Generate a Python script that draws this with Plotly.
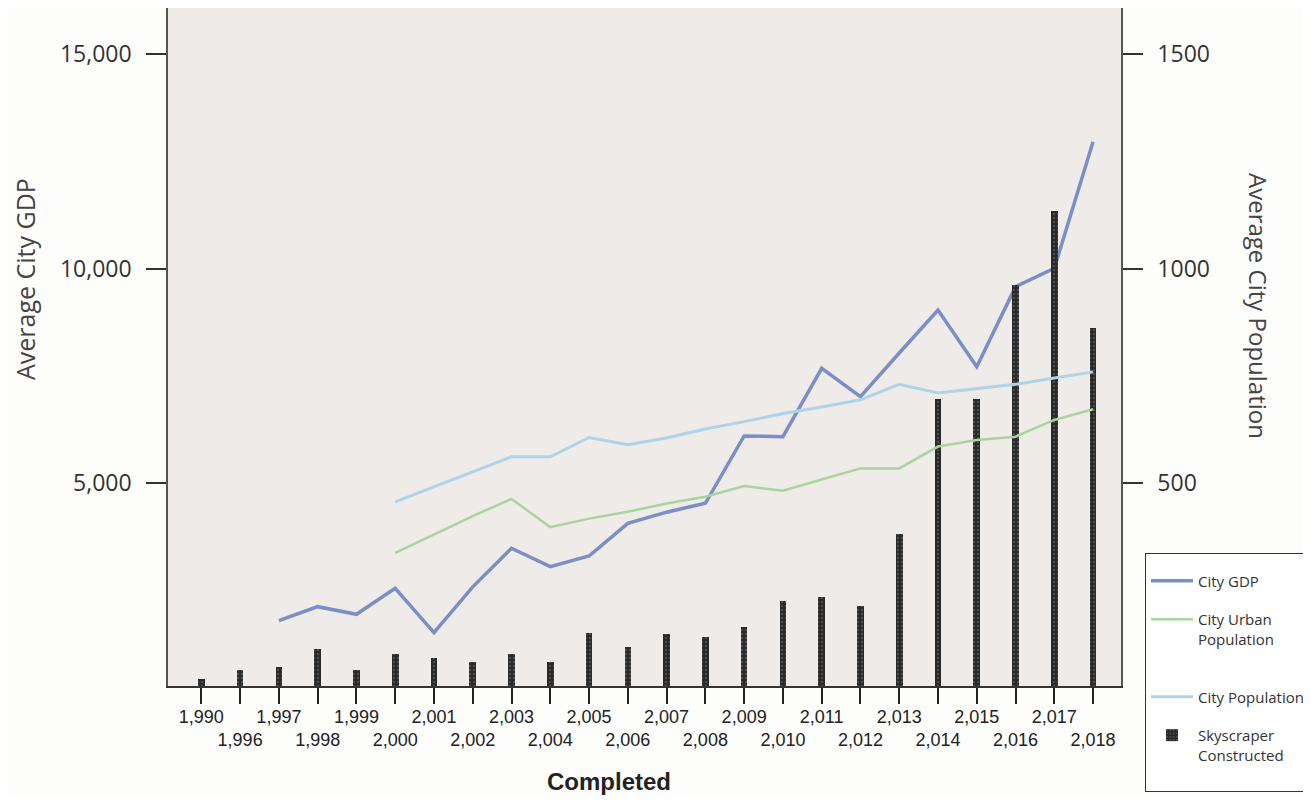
import plotly.graph_objects as go

# ---------------- data ----------------
years = ["1990", "1996", "1997", "1998", "1999", "2000", "2001", "2002", "2003", "2004",
         "2005", "2006", "2007", "2008", "2009", "2010", "2011", "2012", "2013", "2014",
         "2015", "2016", "2017", "2018"]

skyscrapers = [43, 64, 72, 112, 64, 101, 91, 82, 101, 82,
               150, 118, 148, 140, 165, 226, 235, 214, 380, 696,
               696, 962, 1134, 861]

city_gdp = [None, None, 1790, 2117, 1939, 2545, 1511, 2580, 3478, 3049,
            3298, 4060, 4320, 4527, 6096, 6079, 7674, 7012, 8030, 9033,
            7711, 9576, 10005, 12956]

city_urban_pop = [None, None, None, None, None, 337, 380, 423, 463, 397,
                  417, 433, 452, 468, 493, 482, 508, 534, 534, 585,
                  600, 608, 647, 672]

city_pop = [None, None, None, None, None, 456, 491, 526, 561, 561,
            606, 589, 605, 626, 643, 662, 677, 694, 730, 710,
            720, 730, 745, 759]

tick_text = [f"{int(y):,}" for y in years]
left_ticks = [5000, 10000, 15000]
right_ticks = [500, 1000, 1500]

# ---------------- layout geometry (page has an 8px body margin) ----------------
OFF = 8
W, H = 1311 - 2 * OFF, 804 - 2 * OFF
L, R, T, B = 168 - OFF, 1121 - OFF, 0, 686 - OFF
PW, PH = R - L, B - T

def px(xp):          # reference page x -> paper x
    return (xp - OFF - L) / PW

def py(yp):          # reference page y -> paper y
    return (B - (yp - OFF)) / PH

fig = go.Figure()

fig.add_trace(go.Scatter(
    x=years, y=city_gdp, name="City GDP", mode="lines",
    line=dict(color="#7a8ec8", width=3.5), legendrank=1, legendgroup="a",
    connectgaps=False, yaxis="y"))

fig.add_trace(go.Bar(
    x=years, y=skyscrapers, name="Skyscraper<br>Constructed<br> ", width=0.17,
    marker=dict(color="#2a2a2a", line=dict(width=0),
                pattern=dict(shape=".", fgcolor="#d8d8d8", bgcolor="#2a2a2a",
                             size=4, solidity=0.12)),
    legendrank=4, legendgroup="d", yaxis="y2"))

fig.add_trace(go.Scatter(
    x=years, y=city_urban_pop, name="City Urban<br>Population<br> ", mode="lines",
    line=dict(color="#a9d49e", width=2.5), legendrank=2, legendgroup="b",
    connectgaps=False, yaxis="y2"))

fig.add_trace(go.Scatter(
    x=years, y=city_pop, name="City Population", mode="lines",
    line=dict(color="#afd3e8", width=3), legendrank=3, legendgroup="c",
    connectgaps=False, yaxis="y2"))

# long ticks for the lower row of labels
shapes = []
for i, yv in enumerate(years):
    if i % 2 == 1:
        shapes.append(dict(type="line", xref="x", yref="paper", x0=yv, x1=yv,
                           y0=py(700), y1=py(724), line=dict(color="#222", width=2)))

tt = [t if i % 2 == 0 else "<br>" + t for i, t in enumerate(tick_text)]

gdp_per_px = 5000 / 214.5
zero_px = 697.5
y_lo = (zero_px - 686) * gdp_per_px
y_hi = (zero_px - 8) * gdp_per_px

fig.update_layout(
    width=W, height=H,
    margin=dict(l=L, r=W - R, t=T, b=H - B, autoexpand=False),
    paper_bgcolor="#fdfdfc",
    plot_bgcolor="#eeebe9",
    font=dict(family="Open Sans", color="#333333"),
    bargap=0,
    shapes=shapes,
    xaxis=dict(type="category", categoryorder="array", categoryarray=years,
               range=[-0.86, 23.72], tickvals=years, ticktext=tt,
               ticks="outside", ticklen=16, tickwidth=2, tickcolor="#222",
               showline=True, linewidth=2, linecolor="#333", mirror=True,
               showgrid=False, zeroline=False, ticklabelstandoff=-3,
               tickfont=dict(family="Liberation Sans", size=18, color="#222"),
               tickangle=0),
    yaxis=dict(range=[y_lo, y_hi], tickvals=left_ticks, tickformat=",d",
               ticks="outside", ticklen=20, tickwidth=2, tickcolor="#333",
               showline=True, linewidth=1.5, linecolor="#555",
               showgrid=False, zeroline=False, ticklabelstandoff=10,
               tickfont=dict(family="Open Sans", size=23, color="#333")),
    yaxis2=dict(range=[y_lo / 10, y_hi / 10], tickvals=right_ticks, tickformat="d",
                overlaying="y", side="right",
                ticks="outside", ticklen=20, tickwidth=2, tickcolor="#333",
                showline=True, linewidth=1.5, linecolor="#555",
                showgrid=False, zeroline=False, ticklabelstandoff=10,
                tickfont=dict(family="Open Sans", size=23, color="#333")),
    legend=dict(x=px(1145), y=py(553), xanchor="left", yanchor="top",
                bgcolor="#ffffff", bordercolor="#333", borderwidth=1,
                font=dict(family="Open Sans", size=15, color="#333"),
                title=dict(text=" ", font=dict(size=8)),
                traceorder="grouped", tracegroupgap=16, valign="top",
                itemwidth=42),
    annotations=[
        dict(text="Average City GDP", xref="paper", yref="paper",
             x=px(25), y=py(279), xanchor="center", yanchor="middle",
             showarrow=False, textangle=-90,
             font=dict(family="Open Sans", size=25, color="#444")),
        dict(text="Average City Population", xref="paper", yref="paper",
             x=px(1259), y=py(306), xanchor="center", yanchor="middle",
             showarrow=False, textangle=90,
             font=dict(family="Open Sans", size=24, color="#444")),
        dict(text="<b>Completed</b>", xref="paper", yref="paper",
             x=px(609), y=py(781), xanchor="center", yanchor="middle",
             showarrow=False,
             font=dict(family="Liberation Sans", size=24, color="#222")),
    ],
)

fig.write_html("out.html")
